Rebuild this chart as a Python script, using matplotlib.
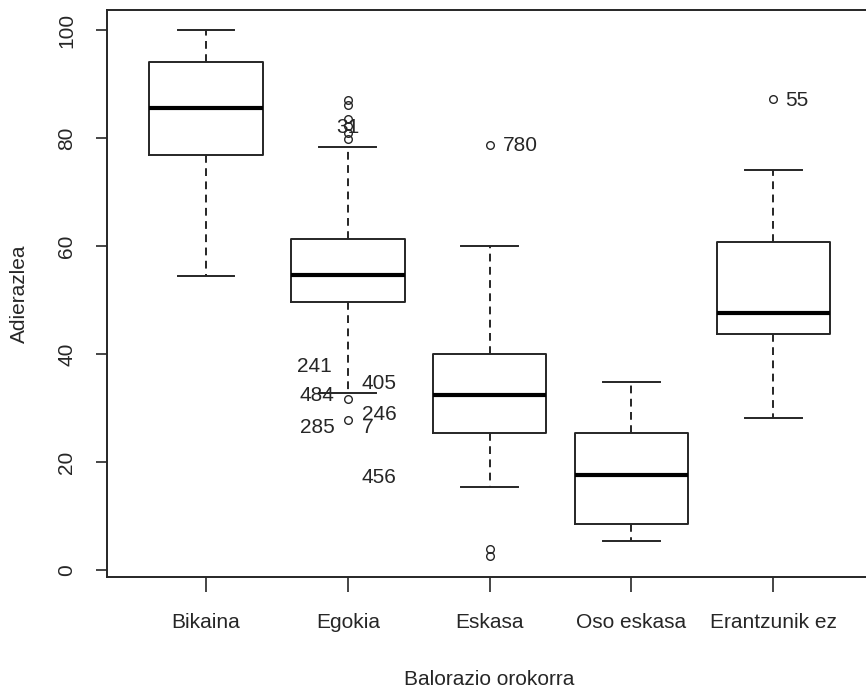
import matplotlib
matplotlib.use("Agg")
import matplotlib.pyplot as plt
from matplotlib import font_manager

# --- data ---
categories = ["Bikaina", "Egokia", "Eskasa", "Oso eskasa", "Erantzunik ez"]
whislo = [54.4, 32.8, 15.3, 5.4, 28.1]
q1 = [76.9, 49.7, 25.4, 8.5, 43.7]
medians = [85.6, 54.6, 32.4, 17.6, 47.5]
q3 = [94.0, 61.3, 40.0, 25.3, 60.7]
whishi = [100.0, 78.4, 60.0, 34.9, 74.1]
fliers = [
    [],
    [87.0, 86.2, 83.5, 82.3, 81.0, 79.8, 31.7, 27.8],
    [78.7, 3.8, 2.6],
    [],
    [87.2],
]

# point labels (identify-style)
lab_text = ["780", "55", "31", "241", "484", "285", "405", "246", "7", "456"]
lab_x = [3.09, 5.08, 2.0, 1.89, 1.905, 1.905, 2.096, 2.10, 2.10, 2.096]
lab_y = [78.6, 87.0, 82.0, 37.6, 32.4, 26.3, 34.6, 28.7, 26.3, 17.2]
lab_ha = ["left", "left", "center", "right", "right", "right",
          "left", "left", "left", "left"]

names = {f.name for f in font_manager.fontManager.ttflist}
if "Liberation Sans Narrow" in names:
    fam, fs = "Liberation Sans Narrow", 17
else:
    fam, fs = "Liberation Sans", 15
plt.rcParams["font.family"] = [fam, "DejaVu Sans"]

ink = "#262626"
fig = plt.figure(figsize=(8.66, 6.93), dpi=100)
ax = fig.add_axes([106.7 / 866, 1 - 577 / 693, (872.6 - 106.7) / 866, (577 - 10) / 693])

stats = []
for i, name in enumerate(categories):
    stats.append(dict(label=name, whislo=whislo[i], q1=q1[i], med=medians[i],
                      q3=q3[i], whishi=whishi[i], fliers=fliers[i]))

ax.bxp(stats, positions=range(1, len(categories) + 1), widths=0.8,
       boxprops=dict(color=ink, lw=1.4),
       medianprops=dict(color="black", lw=3.0, solid_capstyle="butt"),
       whiskerprops=dict(color=ink, lw=1.4, linestyle=(0, (4, 2.8))),
       capprops=dict(color=ink, lw=1.4),
       capwidths=0.4,
       flierprops=dict(marker="o", markerfacecolor="none", markeredgecolor=ink,
                       markersize=5.5, markeredgewidth=1.0, linestyle="none"))

for t, x, y, ha in zip(lab_text, lab_x, lab_y, lab_ha):
    ax.text(x, y, t, ha=ha, va="center", fontsize=fs, color=ink)

ax.set_xlim(0.3, 5.7)
ax.set_ylim(-1.3, 103.7)
ax.set_yticks([0, 20, 40, 60, 80, 100])
ax.set_yticklabels(["0", "20", "40", "60", "80", "100"], rotation=90, va="center")
ax.set_xticks(range(1, len(categories) + 1))
ax.set_xticklabels(categories)
ax.tick_params(axis="both", colors=ink, labelsize=fs, width=1.2)
ax.tick_params(axis="y", length=8, pad=14)
ax.tick_params(axis="x", length=11, pad=15)
for s in ax.spines.values():
    s.set_color(ink)
    s.set_linewidth(1.4)

ax.set_xlabel("Balorazio orokorra", fontsize=fs, color=ink, labelpad=27)
ax.set_ylabel("Adierazlea", fontsize=fs, color=ink, labelpad=20)

fig.savefig("out.png", dpi=100, facecolor="white")
